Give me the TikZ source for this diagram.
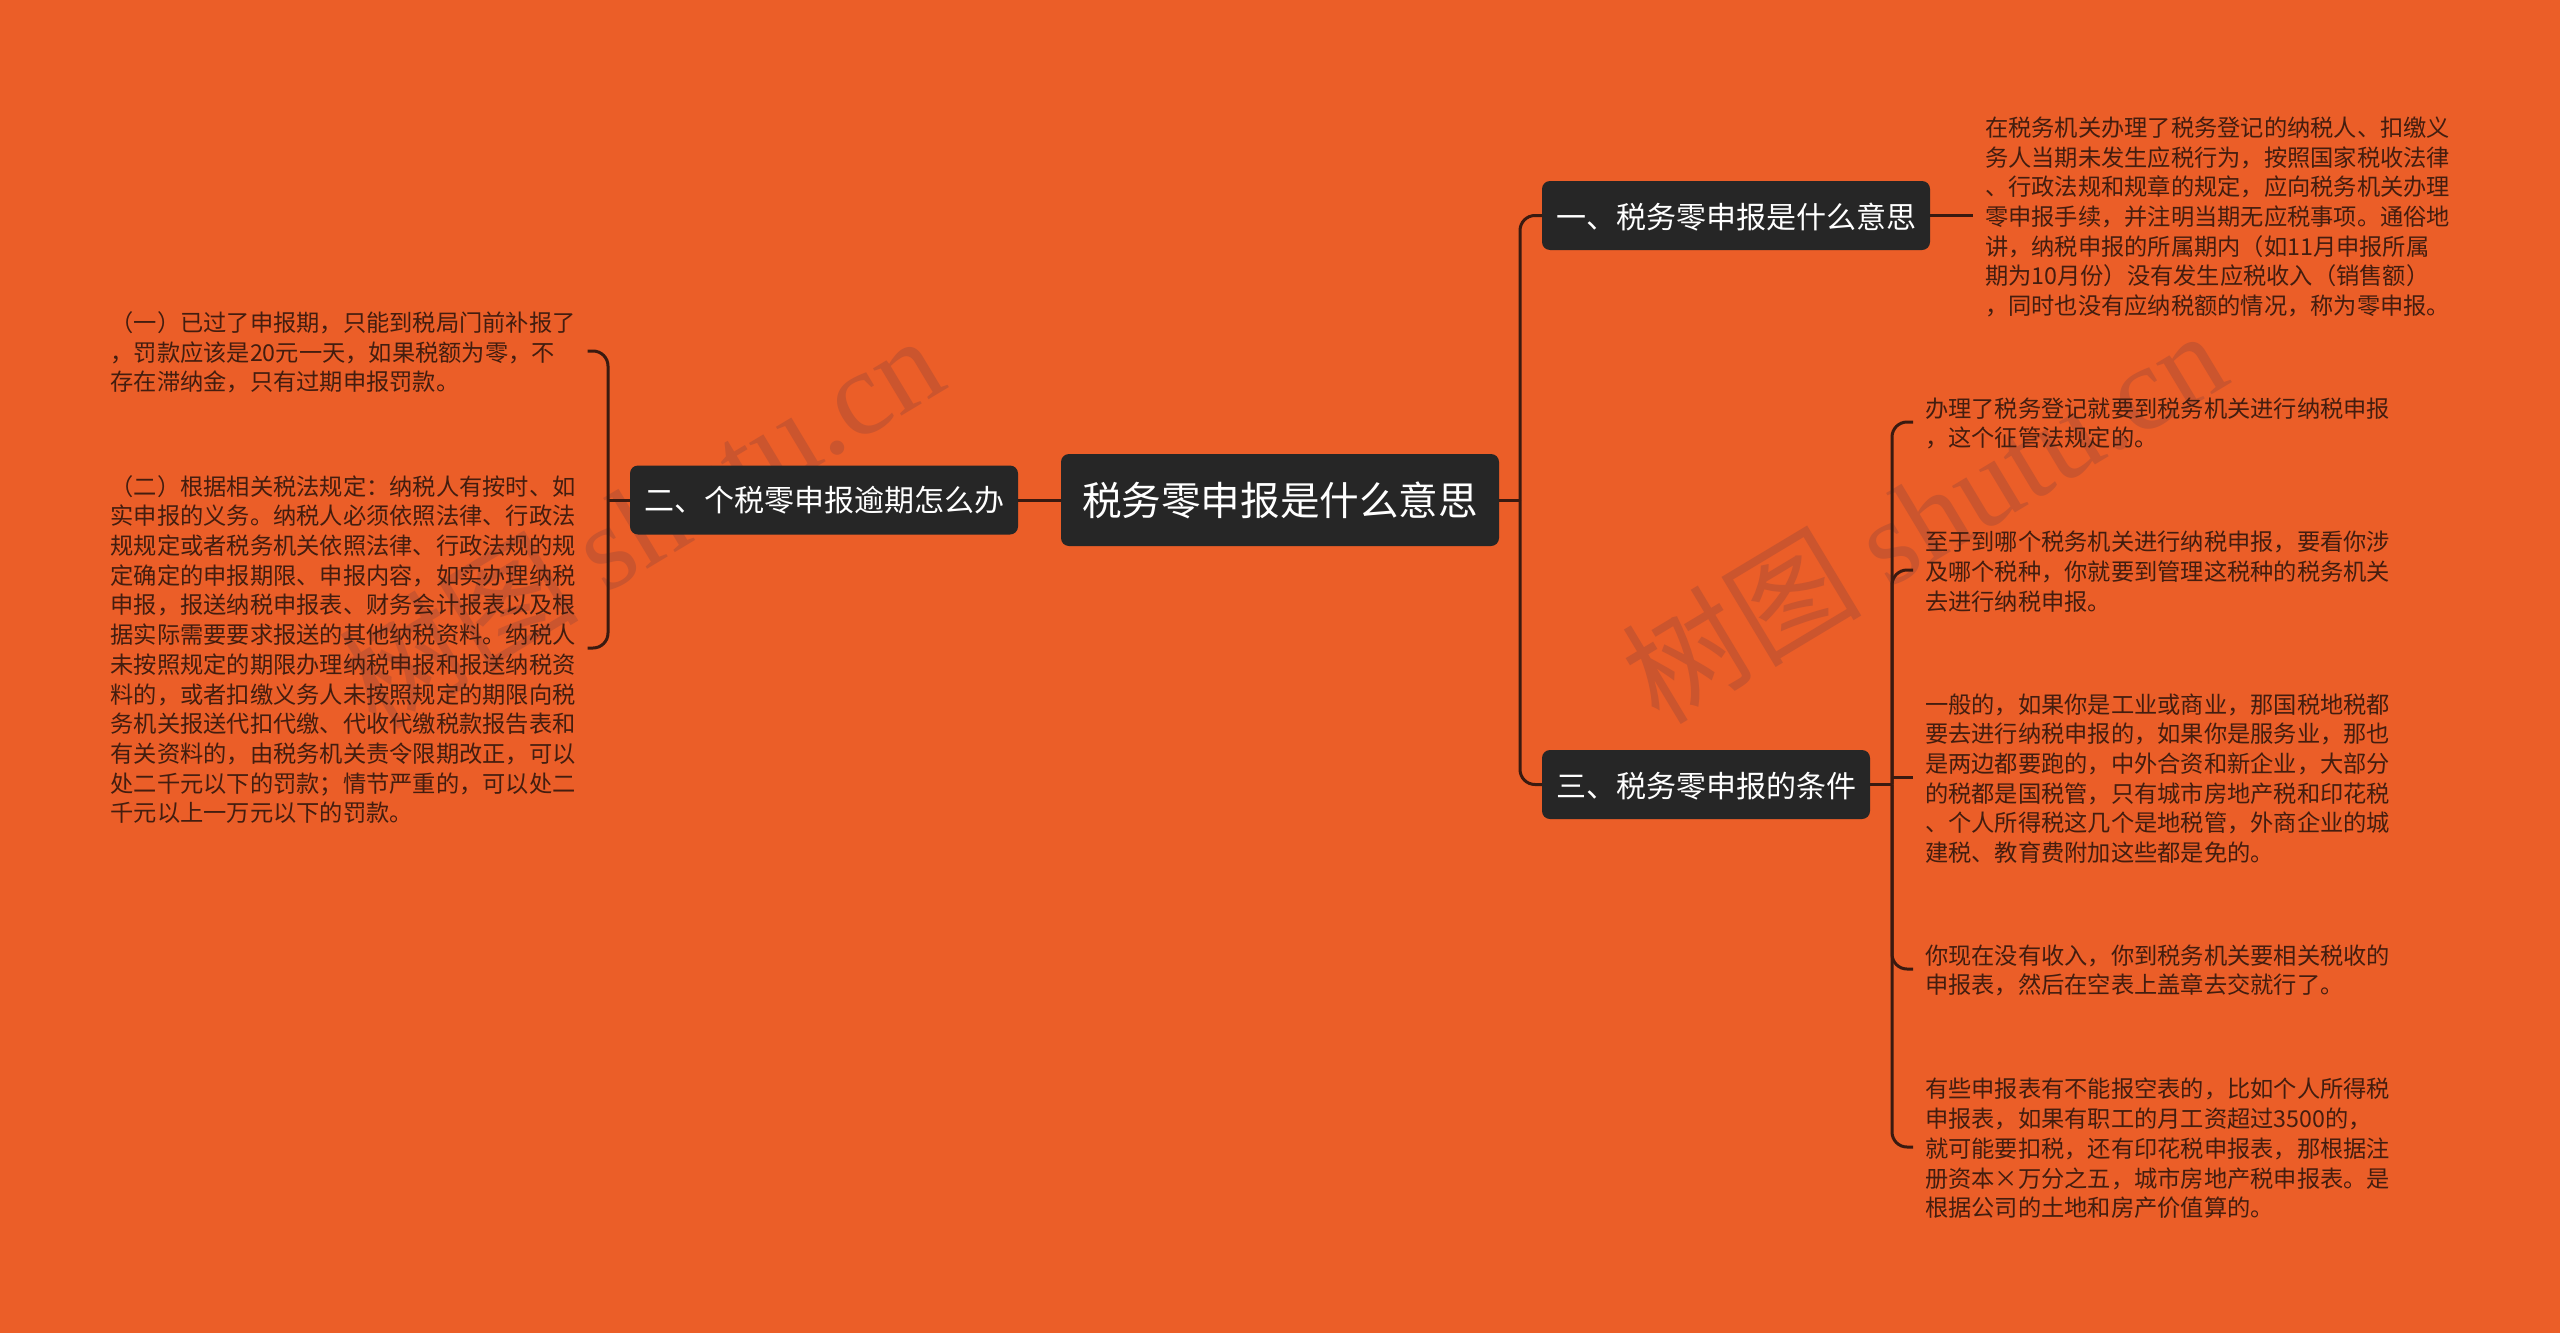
\documentclass[tikz,border=0pt]{standalone}
\usepackage{fontspec}
\setmainfont{Noto Sans CJK SC}
\newfontfamily\wmlatin{Liberation Serif}
\definecolor{bgc}{HTML}{EB5E28}
\definecolor{nodec}{HTML}{262626}
\definecolor{linec}{HTML}{3A1A10}
\definecolor{textc}{HTML}{431D0F}
\definecolor{wmc}{HTML}{CB552E}
\tikzset{
  x=1pt,y=-1pt,
  topicbox/.style={fill=nodec,text=white,rounded corners=8pt,inner sep=0pt,anchor=center,align=center},
  rootbox/.style={topicbox,font=\fontsize{39.6}{44}\selectfont,minimum width=438pt,minimum height=92pt},
  subbox/.style={topicbox,font=\fontsize{30}{36}\selectfont,minimum height=69pt},
  leaf/.style={text=textc,yshift=-1.5pt,inner ysep=0pt,inner xsep=0pt,outer xsep=12pt,outer ysep=0pt,align=left,font=\fontsize{23.25}{29.7}\selectfont},
  link/.style={draw=linec,line width=3pt},
  curved/.style={link,rounded corners=15pt},
  watermark/.style={text=wmc,font=\fontsize{120}{126}\selectfont,rotate=31,anchor=center,inner sep=0pt},
}
\begin{document}
\begin{tikzpicture}
\useasboundingbox (0,0) rectangle (2560,1333);
\fill[bgc] (0,0) rectangle (2560,1333);
% watermarks
\node[watermark] (wma) at (640,520) {树图 {\wmlatin shutu.cn}};
\node[watermark] (wmb) at (1923,515) {树图 {\wmlatin shutu.cn}};
% topics
\node[rootbox] (root) at (1280,500) {税务零申报是什么意思};
\node[subbox,minimum width=388pt] (na) at (1736,215.5) {\raisebox{-1.5pt}[\height][\depth]{一、税务零申报是什么意思}};
\node[subbox,minimum width=388pt] (nb) at (824,500) {二、个税零申报逾期怎么办};
\node[subbox,minimum width=328pt] (nc) at (1706,784.5) {\raisebox{-1.5pt}[\height][\depth]{三、税务零申报的条件}};
% leaves right
\node[leaf,anchor=west] (ta) at (1973,215.5) {在税务机关办理了税务登记的纳税人、扣缴义\\务人当期未发生应税行为，按照国家税收法律\\、行政法规和规章的规定，应向税务机关办理\\零申报手续，并注明当期无应税事项。通俗地\\讲，纳税申报的所属期内（如11月申报所属\\期为10月份）没有发生应税收入（销售额）\\，同时也没有应纳税额的情况，称为零申报。};
\node[leaf,anchor=west] (tc1) at (1913,422) {办理了税务登记就要到税务机关进行纳税申报\\，这个征管法规定的。};
\node[leaf,anchor=west] (tc2) at (1913,570) {至于到哪个税务机关进行纳税申报，要看你涉\\及哪个税种，你就要到管理这税种的税务机关\\去进行纳税申报。};
\node[leaf,anchor=west] (tc3) at (1913,777) {一般的，如果你是工业或商业，那国税地税都\\要去进行纳税申报的，如果你是服务业，那也\\是两边都要跑的，中外合资和新企业，大部分\\的税都是国税管，只有城市房地产税和印花税\\、个人所得税这几个是地税管，外商企业的城\\建税、教育费附加这些都是免的。};
\node[leaf,anchor=west] (tc4) at (1913,969) {你现在没有收入，你到税务机关要相关税收的\\申报表，然后在空表上盖章去交就行了。};
\node[leaf,anchor=west] (tc5) at (1913,1147) {有些申报表有不能报空表的，比如个人所得税\\申报表，如果有职工的月工资超过3500的，\\就可能要扣税，还有印花税申报表，那根据注\\册资本×万分之五，城市房地产税申报表。是\\根据公司的土地和房产价值算的。};
% leaves left
\node[leaf,anchor=east] (tb1) at (587.5,351) {（一）已过了申报期，只能到税局门前补报了\\，罚款应该是20元一天，如果税额为零，不\\存在滞纳金，只有过期申报罚款。};
\node[leaf,anchor=east] (tb2) at (587.5,648) {（二）根据相关税法规定：纳税人有按时、如\\实申报的义务。纳税人必须依照法律、行政法\\规规定或者税务机关依照法律、行政法规的规\\定确定的申报期限、申报内容，如实办理纳税\\申报，报送纳税申报表、财务会计报表以及根\\据实际需要要求报送的其他纳税资料。纳税人\\未按照规定的期限办理纳税申报和报送纳税资\\料的，或者扣缴义务人未按照规定的期限向税\\务机关报送代扣代缴、代收代缴税款报告表和\\有关资料的，由税务机关责令限期改正，可以\\处二千元以下的罚款；情节严重的，可以处二\\千元以上一万元以下的罚款。};
% junctions
\coordinate (jr) at (1520,500);
\coordinate (jl) at (608,500);
\coordinate (jc) at (1892,784.5);
% connectors
\draw[link] (root.west) -- (nb.east);
\draw[link] (root.east) -- (jr);
\draw[curved] (jr) |- (na.west);
\draw[curved] (jr) |- (nc.west);
\draw[link] (na.east) -- ([yshift=1.5pt]ta.west);
\draw[link] (nb.west) -- (jl);
\draw[curved] (jl) |- ([yshift=1.5pt]tb1.east);
\draw[curved] (jl) |- ([yshift=1.5pt]tb2.east);
\draw[link] (nc.east) -- (jc);
\draw[curved] (jc) |- ([yshift=1.5pt]tc1.west);
\draw[curved] (jc) |- ([yshift=1.5pt]tc2.west);
\draw[link] (jc |- tc3.west) ++(0,-1.5) -- ([yshift=1.5pt]tc3.west);
\draw[curved] (jc) |- ([yshift=1.5pt]tc4.west);
\draw[curved] (jc) |- ([yshift=1.5pt]tc5.west);
\end{tikzpicture}
\end{document}
